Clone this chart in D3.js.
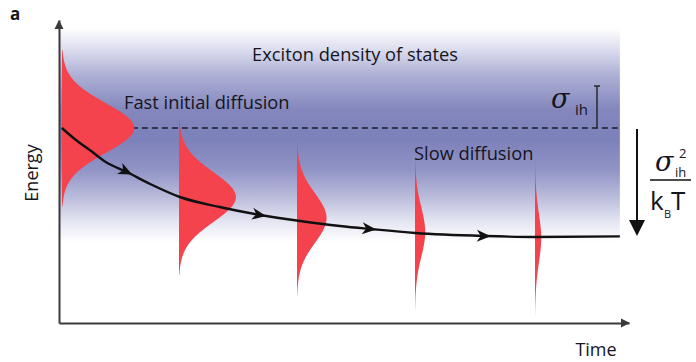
<!DOCTYPE html>
<html>
<head>
<meta charset="utf-8">
<script src="https://cdn.jsdelivr.net/npm/d3@7"></script>
<style>
  body { margin: 0; background: #fff; }
  text { font-family: "Open Sans", sans-serif; fill: #15151c; }
</style>
</head>
<body>
<svg class="chart"></svg>
<script>
let width = 696,
  height = 362;

// relaxation path of the exciton energy (time, energy)
let curveTime = [0.05, 0.28, 0.54, 0.82, 1.19, 1.6, 2.12, 2.82, 3.53, 4.23, 4.93, 5.46, 6.25, 7.47, 8.35, 9.84];
let curveEnergy = [0, -0.28, -0.55, -0.85, -1.1, -1.4, -1.725, -1.975, -2.175, -2.325, -2.45, -2.525, -2.625, -2.7, -2.725, -2.71];

// arrow heads along the path
let arrowTime = [1.19, 3.53, 5.46, 7.47];

// the red population snapshots
let gaussTime = [0.053, 2.105, 4.175, 6.246, 8.351];
let gaussEnergy = [0, -1.725, -2.25, -2.6, -2.75];
let gaussAmp = [1.25, 0.98, 0.5, 0.16, 0.09];
let gaussSigma = 0.62;

let x = d3.scaleLinear().domain([0, 10]).range([59, 629]);
let y = d3.scaleLinear().domain([-4.875, 2.7]).range([323, 20]);

let svg = d3.select(".chart").attr("width", width).attr("height", height);

// band gradient (density of states)
let defs = svg.append("defs");
let grad = defs
  .append("linearGradient")
  .attr("id", "dos")
  .attr("gradientUnits", "userSpaceOnUse")
  .attr("x1", 0).attr("x2", 0)
  .attr("y1", 28).attr("y2", 242);
[
  [0, "#ffffff"],
  [0.1, "#dcddee"],
  [0.22, "#aeb0d5"],
  [0.38, "#8387bd"],
  [0.52, "#7d81ba"],
  [0.66, "#9093c5"],
  [0.8, "#bdbfdd"],
  [0.9, "#e3e4f1"],
  [1, "#ffffff"],
].forEach(function (s) {
  grad.append("stop").attr("offset", s[0]).attr("stop-color", s[1]);
});

svg
  .append("rect")
  .attr("x", x(0))
  .attr("width", x(9.84) - x(0))
  .attr("y", 28)
  .attr("height", 214)
  .attr("fill", "url(#dos)");

// dashed line at initial energy
svg
  .append("line")
  .attr("x1", x(0.05)).attr("x2", x(9.84))
  .attr("y1", y(0)).attr("y2", y(0))
  .attr("stroke", "#1d1d2a")
  .attr("stroke-width", 1.6)
  .attr("stroke-dasharray", "6,4");

// red gaussians
let offs = d3.range(-1.95, 1.951, 0.02);
let area = d3
  .area()
  .curve(d3.curveBasis)
  .y(function (d) { return y(d.e); })
  .x0(function (d) { return x(d.t); })
  .x1(function (d) {
    return x(d.t + d.a * Math.exp(-(d.o * d.o) / (2 * gaussSigma * gaussSigma))) + 1.1 * (1 - Math.abs(d.o) / 1.95);
  });

gaussTime.forEach(function (t, i) {
  let pts = offs.map(function (o) {
    return { t: t, e: gaussEnergy[i] + o, o: o, a: gaussAmp[i] };
  });
  svg.append("path").attr("d", area(pts)).attr("fill", "#f4434c");
});

// relaxation path
let line = d3
  .line()
  .curve(d3.curveMonotoneX)
  .x(function (d) { return x(d[0]); })
  .y(function (d) { return y(d[1]); });

let curve = svg
  .append("path")
  .attr("d", line(d3.zip(curveTime, curveEnergy)))
  .attr("fill", "none")
  .attr("stroke", "#111")
  .attr("stroke-width", 2.4);

// find point on the path at a given x
let node = curve.node();
let total = node.getTotalLength();
function pointAtX(px) {
  let lo = 0, hi = total;
  for (let k = 0; k < 40; k++) {
    let mid = (lo + hi) / 2;
    if (node.getPointAtLength(mid).x < px) lo = mid;
    else hi = mid;
  }
  return lo;
}

arrowTime.forEach(function (t) {
  let l = pointAtX(x(t));
  let p = node.getPointAtLength(l);
  let p2 = node.getPointAtLength(Math.min(total, l + 3));
  let p1 = node.getPointAtLength(Math.max(0, l - 3));
  let ang = (Math.atan2(p2.y - p1.y, p2.x - p1.x) * 180) / Math.PI;
  svg
    .append("path")
    .attr("d", "M6,0L-8,-6L-4,0L-8,6Z")
    .attr("transform", "translate(" + p.x + "," + p.y + ") rotate(" + ang + ")")
    .attr("fill", "#111");
});

// axes
let yAxis = svg
  .append("g")
  .attr("transform", "translate(" + x(0) + ",0)")
  .call(d3.axisLeft(y).ticks(0).tickSizeOuter(0));
let xAxis = svg
  .append("g")
  .attr("transform", "translate(0," + y.range()[0] + ")")
  .call(d3.axisBottom(x).ticks(0).tickSizeOuter(0));
[yAxis, xAxis].forEach(function (g) {
  g.select(".domain").attr("stroke", "#3a3a3a").attr("stroke-width", 2);
});
svg
  .append("path")
  .attr("d", "M" + x(0) + "," + (y.range()[1]) + "l-4.5,9l9,0z")
  .attr("fill", "#3a3a3a");
svg
  .append("path")
  .attr("d", "M" + (x(10) + 1) + "," + y.range()[0] + "l-9,-4.5l0,9z")
  .attr("fill", "#3a3a3a");

// labels
svg.append("text").attr("x", 10).attr("y", 20)
  .style("font-weight", "bold").style("font-size", "17px").text("a");
svg.append("text").attr("x", 355).attr("y", 61).attr("text-anchor", "middle")
  .style("font-size", "18.3px").text("Exciton density of states");
svg.append("text").attr("x", 124).attr("y", 109)
  .style("font-size", "18.3px").text("Fast initial diffusion");
svg.append("text").attr("x", 414).attr("y", 160)
  .style("font-size", "18.3px").text("Slow diffusion");
svg.append("text").attr("transform", "translate(38,173) rotate(-90)")
  .attr("text-anchor", "middle").style("font-size", "18px").text("Energy");
svg.append("text").attr("x", 596).attr("y", 356).attr("text-anchor", "middle")
  .style("font-size", "18px").text("Time");

// sigma_ih bracket
svg.append("path")
  .attr("d", "M594,86H600M597,86V128")
  .attr("stroke", "#2a2a2a").attr("stroke-width", 1.5).attr("fill", "none");
svg.append("text").attr("x", 551).attr("y", 108)
  .style("font-family", "'DejaVu Serif', serif").style("font-style", "italic")
  .style("font-size", "27px").text("σ");
svg.append("text").attr("x", 575).attr("y", 115)
  .style("font-size", "15px").text("ih");

// energy drop arrow
svg.append("line").attr("x1", 637).attr("x2", 637).attr("y1", 129).attr("y2", 224)
  .attr("stroke", "#111").attr("stroke-width", 2);
svg.append("path").attr("d", "M637,236L629,220L645,220Z").attr("fill", "#111");

// sigma^2 / kB T
svg.append("text").attr("x", 655).attr("y", 171)
  .style("font-family", "'DejaVu Serif', serif").style("font-style", "italic")
  .style("font-size", "27px").text("σ");
svg.append("text").attr("x", 679).attr("y", 158).style("font-size", "13px").text("2");
svg.append("text").attr("x", 675).attr("y", 177).style("font-size", "13px").text("ih");
svg.append("line").attr("x1", 650).attr("x2", 691).attr("y1", 180).attr("y2", 180)
  .attr("stroke", "#111").attr("stroke-width", 1.5);
svg.append("text").attr("x", 650).attr("y", 210).style("font-size", "26px").text("k");
svg.append("text").attr("x", 664).attr("y", 218).style("font-size", "11px").text("B");
svg.append("text").attr("x", 671).attr("y", 210).style("font-size", "26px").text("T");
</script>
</body>
</html>
